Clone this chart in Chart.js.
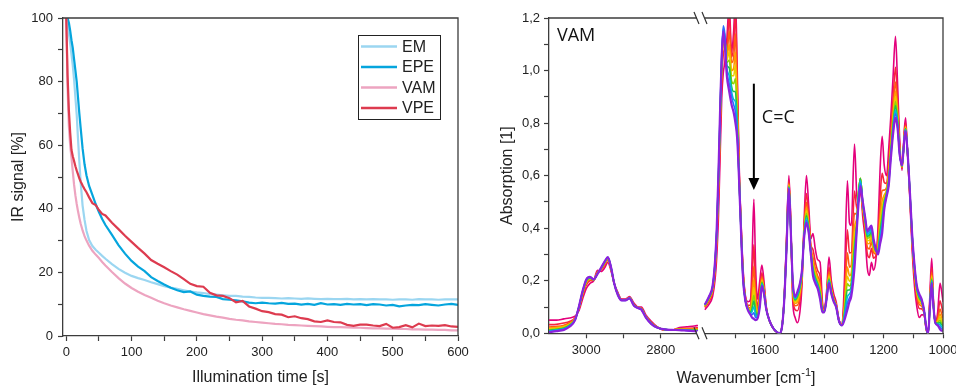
<!DOCTYPE html>
<html>
<head>
<meta charset="utf-8">
<title>IR conversion and VAM spectra</title>
<script src="https://cdn.jsdelivr.net/npm/chart.js@4.4.1/dist/chart.umd.min.js"></script>
<style>
  html, body { margin: 0; padding: 0; background: #fff; }
  body { width: 956px; height: 387px; overflow: hidden; position: relative; }
  canvas { position: absolute; top: 0; }
  #kinetics { left: 0; }
  #spectra { left: 478px; }
</style>
</head>
<body>
<canvas id="kinetics" width="478" height="387"></canvas>
<canvas id="spectra" width="500" height="387"></canvas>
<script>
// ---- IR signal of the C=C band vs. illumination time ----
const timeS = [0, 2, 4, 6, 8, 10, 12, 14, 16, 18, 20, 22, 25, 28, 31, 35, 40, 45, 50, 55,
  60, 70, 80, 90, 100, 110, 120, 130, 140, 150, 160, 170, 180, 190, 200, 210, 220, 230, 240, 250,
  260, 270, 280, 290, 300, 310, 320, 330, 340, 350, 360, 370, 380, 390, 400, 410, 420, 430, 440, 450,
  460, 470, 480, 490, 500, 510, 520, 530, 540, 550, 560, 570, 580, 590, 600];
const signalEM = [100, 98, 95, 92, 88.5, 85, 80.5, 75, 69.6, 62, 55, 48.5, 41, 36.5, 33, 30.2, 28.3, 27.1, 26.2, 25.2,
  24.3, 22.6, 21.1, 19.9, 18.9, 18.2, 17.6, 16.9, 16.3, 15.7, 15.2, 14.8, 14.4, 14.0, 13.7, 13.5, 13.2, 13.0, 12.8, 12.6,
  12.6, 12.4, 12.3, 12.1, 12.0, 12.0, 11.9, 11.8, 11.9, 11.8, 11.7, 11.8, 11.7, 11.6, 11.7, 11.6, 11.6, 11.7, 11.5, 11.6,
  11.5, 11.6, 11.5, 11.5, 11.4, 11.5, 11.5, 11.4, 11.6, 11.5, 11.5, 11.4, 11.5, 11.5, 11.5];
const signalEPE = [100, 100, 98.5, 96, 93, 90.5, 87, 83.5, 80, 75, 70, 65.5, 59, 54, 50.5, 47.2, 44.4, 41.5, 39, 36.8,
  34.9, 31.8, 28.6, 25.9, 23.6, 21.8, 20.4, 18.5, 17.3, 16.2, 15.2, 14.4, 13.8, 14.0, 13.0, 12.6, 12.4, 12.3, 11.6, 11.4,
  11.2, 10.9, 10.5, 10.3, 10.5, 10.3, 10.2, 10.4, 10.1, 10.2, 9.9, 10.1, 9.8, 10.3, 9.9, 10.0, 9.8, 10.1, 9.9, 10.0,
  9.7, 10.0, 9.9, 9.6, 9.8, 9.3, 9.6, 9.8, 9.7, 10.0, 9.8, 9.6, 9.9, 10.1, 9.8];
const signalVAM = [100, 78, 66, 60, 56, 51.7, 47.5, 44.2, 41.5, 39.2, 37.2, 35.4, 33.2, 31.4, 30, 28.4, 26.8, 25.6, 24.5, 23.3,
  22.2, 20.1, 18.2, 16.5, 15.1, 13.9, 12.9, 12.0, 11.1, 10.3, 9.6, 9.0, 8.4, 7.9, 7.4, 6.9, 6.5, 6.1, 5.8, 5.4,
  5.1, 4.9, 4.6, 4.4, 4.2, 4.0, 3.8, 3.7, 3.5, 3.4, 3.3, 3.2, 3.1, 3.0, 2.9, 2.8, 2.8, 2.7, 2.6, 2.6,
  2.5, 2.4, 2.4, 2.3, 2.3, 2.2, 2.2, 2.1, 2.1, 2.0, 2.0, 1.9, 1.9, 1.8, 1.8];
const signalVPE = [100, 82, 71, 64, 58.5, 56.5, 55, 53.4, 52, 50.8, 49.6, 48.6, 47.3, 46.2, 45.2, 43.6, 41.8, 41.2, 39.6, 38.4,
  37.9, 35.6, 33.6, 31.5, 29.6, 27.7, 25.9, 23.9, 22.7, 21.6, 20.4, 19.3, 17.9, 16.4, 15.7, 15.5, 13.6, 12.8, 12.6, 11.9,
  10.6, 11.0, 9.3, 8.6, 7.8, 7.5, 6.9, 6.7, 5.9, 6.2, 5.6, 5.3, 4.6, 4.4, 4.9, 4.4, 4.3, 3.5, 3.2, 3.6,
  3.6, 3.3, 3.1, 3.8, 2.6, 2.8, 3.4, 2.7, 3.9, 3.1, 3.3, 3.2, 3.4, 3.0, 2.9];
const timeTicks = [0, 50, 100, 150, 200, 250, 300, 350, 400, 450, 500, 550, 600];
const signalTicks = [0, 10, 20, 30, 40, 50, 60, 70, 80, 90, 100];

// ---- VAM spectra, first scan (scan0) to last scan (scan9) ----
// C-H region (3100-2700) followed by the fingerprint region (1800-1000)
const wavenumbers = [3100, 3080, 3060, 3045, 3030, 3020, 3010, 3000, 2990, 2980, 2970, 2960, 2950, 2942, 2934, 2925,
  2915, 2905, 2895, 2884, 2872, 2860, 2852, 2840, 2825, 2810, 2790, 2770, 2750, 2730, 2710, 2700,
  1802, 1788, 1776, 1768, 1762, 1756, 1750, 1745, 1740, 1735, 1728, 1720, 1712, 1705, 1699, 1693, 1686, 1680, 1673, 1665,
  1656, 1648, 1643, 1637, 1631, 1625, 1617, 1610, 1603, 1595, 1585, 1572, 1560, 1552, 1544, 1535, 1527, 1519, 1513, 1506,
  1498, 1490, 1482, 1475, 1468, 1460, 1452, 1445, 1438, 1430, 1422, 1414, 1406, 1400, 1392, 1384, 1376, 1368, 1360, 1350,
  1340, 1332, 1322, 1315, 1309, 1298, 1290, 1284, 1278, 1270, 1262, 1255, 1248, 1241, 1234, 1226, 1219, 1212, 1205, 1198,
  1190, 1183, 1176, 1168, 1160, 1153, 1146, 1138, 1130, 1126, 1120, 1112, 1104, 1096, 1088, 1080, 1072, 1064, 1056, 1050,
  1044, 1038, 1032, 1026, 1018, 1010, 1006, 1000];
const scan0 = [.05, .05, .055, .058, .065, .085, .13, .17, .19, .20, .24, .235, .25, .27, .24, .19,
  .155, .13, .13, .14, .115, .10, .10, .07, .045, .025, .012, .012, .022, .025, .028, .03,
  .09, .11, .14, .20, .29, .45, .70, .90, .99, 1.03, 1.12, 1.25, 1.07, 1.15, 1.28, 1.0, .62, .42, .24, .14,
  .12, .13, .28, .51, .25, .13, .20, .26, .20, .10, .05, .02, .005, 0, .015, .13, .36, .60, .44, .12,
  .06, .04, .08, .18, .42, .60, .48, .36, .38, .32, .28, .27, .12, .09, .16, .29, .20, .15, .12, .05,
  .035, .20, .58, .42, .41, .72, .52, .50, .55, .44, .36, .25, .22, .27, .24, .28, .40, .62, .75, .64,
  .60, .70, .82, .98, 1.13, .95, .74, .62, .78, .82, .70, .52, .32, .18, .10, .06, .07, .07, .01, 0,
  .15, .285, .12, .04, .08, .19, .17, .12];
const scan1 = [.033, .034, .039, .045, .059, .091, .141, .183, .20, .202, .234, .241, .26, .278, .246, .19,
  .151, .128, .128, .137, .111, .098, .096, .066, .041, .024, .013, .012, .018, .019, .02, .021,
  .098, .121, .155, .227, .332, .515, .768, .97, 1.06, 1.08, 1.08, 1.21, 1.05, 1.10, 1.22, .95, .60, .41, .23, .135,
  .107, .107, .196, .337, .174, .102, .162, .23, .181, .096, .05, .02, .005, 0, .014, .126, .345, .581, .425, .15,
  .09, .086, .122, .203, .397, .532, .442, .337, .319, .271, .238, .217, .105, .086, .149, .252, .181, .139, .112, .048,
  .033, .143, .394, .306, .307, .541, .474, .52, .57, .463, .39, .303, .288, .323, .286, .295, .362, .514, .609, .575,
  .57, .647, .759, .896, 1.012, .885, .717, .628, .765, .80, .70, .531, .343, .21, .13, .094, .093, .078, .014, 0,
  .131, .249, .112, .04, .061, .124, .109, .078];
const scan2 = [.024, .026, .031, .04, .057, .093, .147, .19, .204, .203, .232, .243, .264, .281, .248, .19,
  .149, .127, .127, .136, .109, .097, .094, .064, .039, .023, .014, .013, .016, .017, .017, .017,
  .101, .127, .162, .239, .352, .545, .801, 1.0, 1.10, 1.10, 1.06, 1.15, 1.03, 1.05, 1.14, .90, .59, .40, .22, .13,
  .10, .096, .157, .255, .138, .088, .144, .215, .172, .094, .05, .02, .005, 0, .014, .124, .338, .572, .418, .165,
  .105, .107, .142, .214, .386, .499, .424, .326, .29, .247, .218, .192, .098, .084, .143, .234, .172, .133, .109, .047,
  .032, .116, .306, .252, .259, .457, .453, .53, .58, .474, .405, .328, .321, .348, .307, .302, .344, .463, .543, .545,
  .555, .622, .73, .857, .956, .855, .706, .631, .758, .79, .70, .537, .354, .225, .145, .11, .104, .081, .016, 0,
  .122, .232, .109, .04, .052, .092, .08, .058];
const scan3 = [.019, .022, .027, .036, .055, .095, .15, .193, .207, .203, .23, .245, .267, .283, .25, .19,
  .148, .127, .127, .135, .108, .097, .093, .063, .038, .023, .014, .013, .015, .015, .015, .015,
  .103, .13, .167, .247, .364, .564, .821, 1.02, 1.12, 1.11, 1.05, 1.10, 1.0, 1.01, 1.07, .86, .58, .39, .22, .127,
  .097, .09, .133, .205, .116, .08, .133, .206, .167, .093, .05, .02, .005, 0, .014, .123, .333, .567, .413, .174,
  .114, .12, .154, .22, .38, .479, .413, .32, .273, .233, .206, .176, .093, .083, .14, .223, .167, .13, .107, .047,
  .032, .10, .252, .219, .229, .405, .44, .54, .59, .48, .414, .344, .341, .364, .32, .307, .333, .432, .502, .526,
  .546, .606, .713, .833, .922, .836, .70, .633, .753, .787, .70, .54, .36, .234, .154, .12, .11, .083, .017, 0,
  .117, .221, .107, .04, .047, .073, .063, .046];
const scan4 = [.016, .019, .024, .034, .054, .096, .152, .196, .209, .204, .229, .246, .269, .285, .251, .19,
  .148, .126, .126, .135, .108, .096, .093, .063, .038, .023, .014, .013, .015, .014, .013, .013,
  .105, .132, .17, .252, .371, .576, .833, 1.03, 1.13, 1.12, 1.04, 1.07, .98, .98, 1.02, .83, .58, .39, .21, .125,
  .094, .086, .117, .173, .102, .075, .126, .201, .163, .093, .05, .02, .005, 0, .013, .123, .33, .563, .41, .179,
  .119, .129, .161, .224, .376, .467, .406, .316, .262, .224, .199, .166, .09, .083, .138, .216, .163, .128, .105, .046,
  .031, .089, .217, .198, .21, .372, .431, .54, .59, .484, .419, .354, .353, .374, .329, .31, .326, .413, .476, .514,
  .541, .596, .702, .817, .901, .824, .696, .635, .75, .783, .70, .542, .364, .239, .159, .127, .114, .085, .017, 0,
  .113, .215, .105, .04, .043, .061, .052, .039];
const scan5 = [.013, .016, .021, .032, .053, .097, .154, .198, .21, .204, .228, .247, .27, .286, .252, .19,
  .147, .126, .126, .134, .107, .096, .092, .062, .037, .023, .014, .013, .014, .013, .012, .012,
  .106, .134, .172, .256, .378, .586, .844, 1.04, 1.14, 1.12, 1.03, 1.04, .96, .95, .97, .81, .57, .39, .21, .124,
  .092, .082, .104, .146, .09, .07, .12, .196, .16, .092, .05, .02, .005, 0, .013, .122, .328, .56, .408, .184,
  .124, .136, .168, .228, .372, .456, .40, .312, .252, .216, .192, .158, .088, .082, .136, .21, .16, .126, .104, .046,
  .031, .08, .188, .18, .194, .344, .424, .54, .59, .488, .424, .362, .364, .382, .336, .312, .32, .396, .454, .504,
  .536, .588, .692, .804, .882, .814, .692, .636, .748, .78, .70, .544, .368, .244, .164, .132, .118, .086, .018, 0,
  .11, .209, .104, .04, .04, .05, .042, .032];
const scan6 = [.011, .014, .019, .03, .052, .098, .156, .20, .211, .204, .227, .248, .271, .287, .253, .19,
  .147, .126, .126, .134, .107, .096, .092, .062, .037, .022, .015, .013, .014, .012, .011, .01,
  .107, .136, .174, .26, .384, .595, .853, 1.05, 1.15, 1.13, 1.02, 1.01, .94, .92, .92, .79, .57, .39, .21, .123,
  .09, .079, .093, .123, .08, .066, .115, .192, .158, .092, .05, .02, .005, 0, .013, .122, .326, .558, .406, .188,
  .128, .142, .174, .231, .369, .447, .395, .309, .244, .21, .187, .151, .086, .082, .135, .205, .158, .125, .103, .046,
  .031, .073, .164, .165, .181, .321, .418, .54, .59, .491, .428, .369, .373, .389, .342, .314, .315, .382, .436, .496,
  .532, .581, .684, .793, .867, .806, .689, .637, .746, .778, .70, .546, .371, .248, .168, .137, .121, .087, .018, 0,
  .108, .204, .103, .04, .038, .041, .034, .027];
const scan7 = [.009, .012, .017, .028, .052, .099, .157, .202, .213, .205, .227, .249, .273, .288, .254, .19,
  .146, .126, .126, .134, .106, .096, .091, .061, .036, .022, .015, .013, .013, .012, .01, .009,
  .108, .137, .176, .263, .389, .603, .862, 1.06, 1.16, 1.13, 1.01, .98, .92, .89, .88, .77, .57, .38, .20, .122,
  .089, .076, .082, .101, .07, .063, .11, .188, .155, .091, .05, .02, .005, 0, .013, .121, .324, .555, .404, .192,
  .132, .148, .179, .234, .366, .438, .39, .306, .236, .203, .181, .144, .084, .081, .133, .20, .155, .123, .102, .046,
  .031, .065, .139, .15, .167, .297, .412, .53, .58, .494, .432, .376, .382, .396, .348, .316, .31, .368, .417, .487,
  .528, .574, .676, .782, .851, .797, .686, .638, .744, .775, .70, .547, .374, .252, .172, .141, .124, .088, .019, 0,
  .105, .20, .102, .04, .035, .033, .026, .021];
const scan8 = [.006, .01, .015, .027, .051, .099, .159, .203, .214, .205, .226, .249, .274, .289, .254, .19,
  .146, .125, .125, .133, .106, .095, .091, .061, .036, .022, .015, .013, .013, .011, .009, .008,
  .109, .139, .178, .267, .395, .612, .871, 1.07, 1.17, 1.14, 1.0, .95, .90, .87, .84, .76, .56, .38, .20, .121,
  .087, .073, .071, .078, .06, .059, .105, .184, .153, .09, .05, .02, .005, 0, .013, .12, .322, .553, .402, .196,
  .136, .154, .185, .237, .363, .429, .385, .303, .228, .197, .176, .137, .082, .081, .132, .195, .153, .122, .101, .045,
  .03, .058, .115, .135, .154, .274, .406, .52, .57, .497, .436, .383, .391, .403, .354, .318, .305, .354, .399, .479,
  .524, .567, .668, .771, .836, .789, .683, .639, .742, .773, .70, .549, .377, .256, .176, .146, .127, .089, .02, 0,
  .103, .195, .101, .04, .033, .024, .018, .016];
const scan9 = [.004, .008, .013, .025, .05, .10, .16, .205, .215, .205, .225, .25, .275, .29, .255, .19,
  .145, .125, .125, .133, .105, .095, .09, .06, .035, .022, .015, .013, .012, .01, .008, .007,
  .11, .14, .18, .27, .40, .62, .88, 1.06, 1.15, 1.10, .98, .92, .87, .84, .80, .74, .56, .38, .20, .12,
  .085, .07, .06, .055, .05, .055, .10, .18, .15, .09, .05, .02, .005, 0, .013, .12, .32, .55, .40, .20,
  .14, .16, .19, .24, .36, .42, .38, .30, .22, .19, .17, .13, .08, .08, .13, .19, .15, .12, .10, .045,
  .03, .05, .09, .12, .14, .25, .40, .50, .56, .50, .44, .39, .40, .41, .36, .32, .30, .34, .38, .47,
  .52, .56, .66, .76, .82, .78, .68, .64, .74, .77, .70, .55, .38, .26, .18, .15, .13, .09, .02, 0,
  .10, .19, .10, .04, .03, .015, .01, .01];
const scans = [scan0, scan1, scan2, scan3, scan4, scan5, scan6, scan7, scan8, scan9];
const scanColors = ['#e4007c', '#f7243f', '#ff5c12', '#ff9d00', '#eecb00', '#94d400', '#1fc14d', '#00bfd8', '#2f6bff', '#8c22dc'];
const chTicks = [3000, 2900, 2800];
const fingerprintTicks = [1700, 1600, 1500, 1400, 1300, 1200, 1100, 1000];
const absorbTicks = [0, 0.1, 0.2, 0.3, 0.4, 0.5, 0.6, 0.7, 0.8, 0.9, 1.0, 1.1, 1.2];

Chart.defaults.font.family = '"Liberation Sans", Arial, sans-serif';
Chart.defaults.color = '#222';
const axisColor = '#3c3c3c';
const tickFont = { size: 13 };

function points(xs, ys) {
  return xs.map((x, i) => ({ x: x, y: ys[i] }));
}

// top and right edges of the plot box
const boxFrame = {
  id: 'boxFrame',
  afterDatasetsDraw(chart) {
    const { ctx, chartArea: a } = chart;
    ctx.save();
    ctx.strokeStyle = axisColor;
    ctx.lineWidth = 1.3;
    ctx.beginPath();
    ctx.moveTo(a.left, a.top);
    ctx.lineTo(a.right, a.top);
    ctx.lineTo(a.right, a.bottom);
    ctx.stroke();
    ctx.restore();
  }
};

// framed legend inside the plot area
const legendBox = {
  id: 'legendBox',
  afterDraw(chart) {
    const { ctx, chartArea: a } = chart;
    const w = 82, h = 84;
    const x = a.right - 18 - w, y = a.top + 17;
    ctx.save();
    ctx.fillStyle = '#fff';
    ctx.fillRect(x, y, w, h);
    ctx.strokeStyle = '#222';
    ctx.lineWidth = 1;
    ctx.strokeRect(x + 0.5, y + 0.5, w, h);
    ctx.font = '16px "Liberation Sans", Arial, sans-serif';
    ctx.textBaseline = 'middle';
    chart.data.datasets.forEach((ds, i) => {
      const cy = y + 11.5 + i * 20.5;
      ctx.strokeStyle = ds.borderColor;
      ctx.lineWidth = 2.5;
      ctx.beginPath();
      ctx.moveTo(x + 3, cy);
      ctx.lineTo(x + 39, cy);
      ctx.stroke();
      ctx.fillStyle = '#222';
      ctx.fillText(ds.label, x + 44, cy + 1);
    });
    ctx.restore();
  }
};

new Chart(document.getElementById('kinetics'), {
  type: 'line',
  data: {
    datasets: [
      { label: 'EM', data: points(timeS, signalEM), borderColor: '#9bd6f1', order: 3 },
      { label: 'EPE', data: points(timeS, signalEPE), borderColor: '#05a5dd', order: 2 },
      { label: 'VAM', data: points(timeS, signalVAM), borderColor: '#eda4c0', order: 1 },
      { label: 'VPE', data: points(timeS, signalVPE), borderColor: '#dd3b4f', order: 0 }
    ]
  },
  options: {
    responsive: false,
    animation: false,
    layout: { padding: { top: 18, right: 20, bottom: 0, left: 0 } },
    elements: { point: { radius: 0 }, line: { borderWidth: 2.2, tension: 0 } },
    scales: {
      x: {
        type: 'linear', min: -5, max: 600,
        afterBuildTicks: s => { s.ticks = timeTicks.map(v => ({ value: v })); },
        afterFit: s => { s.height = 51; },
        ticks: { callback: v => (v % 100 === 0 ? v : ''), font: tickFont, maxRotation: 0, autoSkip: false, padding: 4 },
        grid: { drawOnChartArea: false, tickLength: 5, tickColor: axisColor, tickWidth: 1.2 },
        border: { color: axisColor, width: 1.3 },
        title: { display: true, text: 'Illumination time [s]', font: { size: 16 }, padding: { top: 0, bottom: 0 } }
      },
      y: {
        min: 0, max: 100,
        afterBuildTicks: s => { s.ticks = signalTicks.map(v => ({ value: v })); },
        afterFit: s => { s.width = 63; },
        ticks: { callback: v => (v % 20 === 0 ? v : ''), font: tickFont, autoSkip: false, padding: 5 },
        grid: { drawOnChartArea: false, tickLength: 5, tickColor: axisColor, tickWidth: 1.2 },
        border: { color: axisColor, width: 1.3 },
        title: { display: true, text: 'IR signal [%]', font: { size: 16 }, padding: { top: 9, bottom: 0 } }
      }
    },
    plugins: { legend: { display: false }, tooltip: { enabled: false } }
  },
  plugins: [boxFrame, legendBox]
});

// axis break, band label, arrow and the wavenumber title
const spectraDecor = {
  id: 'spectraDecor',
  afterDraw(chart) {
    const { ctx, chartArea: a, scales } = chart;
    const yS = scales.y, xR = scales.xR, xL = scales.xL;
    ctx.save();
    ctx.strokeStyle = axisColor;
    ctx.lineWidth = 1.3;
    ctx.beginPath();
    ctx.moveTo(a.left, a.top);
    ctx.lineTo(a.right, a.top);
    ctx.lineTo(a.right, a.bottom);
    ctx.stroke();

    const bx = xL.right;
    [a.top, a.bottom].forEach(yy => {
      ctx.fillStyle = '#fff';
      ctx.fillRect(bx - 4, yy - 2, 8, 4);
      ctx.strokeStyle = '#333';
      ctx.lineWidth = 1.2;
      ctx.beginPath();
      ctx.moveTo(bx - 7, yy - 6);
      ctx.lineTo(bx - 2, yy + 6);
      ctx.moveTo(bx + 1, yy - 6);
      ctx.lineTo(bx + 6, yy + 6);
      ctx.stroke();
    });

    ctx.fillStyle = '#111';
    ctx.font = '18px "Open Sans", sans-serif';
    ctx.textBaseline = 'alphabetic';
    ctx.fillText('VAM', a.left + 8, a.top + 23);

    const ax = xR.getPixelForValue(1637);
    const yTop = yS.getPixelForValue(0.95);
    const yTip = yS.getPixelForValue(0.545);
    ctx.strokeStyle = '#000';
    ctx.lineWidth = 2;
    ctx.beginPath();
    ctx.moveTo(ax, yTop);
    ctx.lineTo(ax, yTip - 10);
    ctx.stroke();
    ctx.fillStyle = '#000';
    ctx.beginPath();
    ctx.moveTo(ax - 5.5, yTip - 12);
    ctx.lineTo(ax + 5.5, yTip - 12);
    ctx.lineTo(ax, yTip);
    ctx.closePath();
    ctx.fill();
    ctx.fillStyle = '#111';
    ctx.font = '18px "Open Sans", sans-serif';
    ctx.fillText('C=C', ax + 8, yS.getPixelForValue(0.80));

    // x title with superscript
    const main = 'Wavenumber [cm', sup = '-1', tail = ']';
    const fMain = '16px "Liberation Sans", Arial, sans-serif';
    const fSup = '11px "Liberation Sans", Arial, sans-serif';
    ctx.font = fMain;
    const w1 = ctx.measureText(main).width, w3 = ctx.measureText(tail).width;
    ctx.font = fSup;
    const w2 = ctx.measureText(sup).width;
    let tx = (a.left + a.right) / 2 - (w1 + w2 + w3) / 2;
    const ty = 383;
    ctx.fillStyle = '#222';
    ctx.font = fMain;
    ctx.fillText(main, tx, ty);
    tx += w1;
    ctx.font = fSup;
    ctx.fillText(sup, tx, ty - 7);
    tx += w2;
    ctx.font = fMain;
    ctx.fillText(tail, tx, ty);
    ctx.restore();
  }
};

// each scan is split over the two x ranges; later scans are drawn on top
const spectraSets = [];
scans.forEach((scan, k) => {
  const width = k === scans.length - 1 ? 2.2 : 1.6;
  const ch = wavenumbers.map((w, i) => ({ x: w, y: scan[i] })).filter(p => p.x > 2000);
  const fp = wavenumbers.map((w, i) => ({ x: w, y: scan[i] })).filter(p => p.x < 2000);
  const order = scans.length - k;
  spectraSets.push({ data: ch, xAxisID: 'xL', borderColor: scanColors[k], borderWidth: width, order: order });
  spectraSets.push({ data: fp, xAxisID: 'xR', borderColor: scanColors[k], borderWidth: width, order: order });
});

const xCommon = {
  type: 'linear', position: 'bottom', reverse: true, stack: 'wavenumber',
  afterFit: s => { s.height = 53.7; },
  grid: { drawOnChartArea: false, tickLength: 5, tickColor: axisColor, tickWidth: 1.2 },
  border: { color: axisColor, width: 1.3 }
};

new Chart(document.getElementById('spectra'), {
  type: 'line',
  data: { datasets: spectraSets },
  options: {
    responsive: false,
    animation: false,
    layout: { padding: { top: 18, right: 35, bottom: 0, left: 0 } },
    elements: { point: { radius: 0 }, line: { tension: 0, cubicInterpolationMode: 'monotone' } },
    scales: {
      xL: Object.assign({}, xCommon, {
        min: 2692, max: 3100, stackWeight: 152,
        afterBuildTicks: s => { s.ticks = chTicks.map(v => ({ value: v })); },
        ticks: { callback: v => (v % 200 === 0 ? v : ''), font: tickFont, maxRotation: 0, autoSkip: false, padding: 4 }
      }),
      xR: Object.assign({}, xCommon, {
        min: 1000, max: 1815, stackWeight: 242,
        afterBuildTicks: s => { s.ticks = fingerprintTicks.map(v => ({ value: v })); },
        ticks: { callback: v => (v % 200 === 0 ? v : ''), font: tickFont, maxRotation: 0, autoSkip: false, padding: 4 }
      }),
      y: {
        min: 0, max: 1.2,
        afterBuildTicks: s => { s.ticks = absorbTicks.map(v => ({ value: v })); },
        afterFit: s => { s.width = 71; },
        ticks: {
          callback: v => (Math.round(v * 10) % 2 === 0 ? v.toFixed(1).replace('.', ',') : ''),
          font: tickFont, autoSkip: false, padding: 4
        },
        grid: { drawOnChartArea: false, tickLength: 5, tickColor: axisColor, tickWidth: 1.2 },
        border: { color: axisColor, width: 1.3 },
        title: { display: true, text: 'Absorption [1]', font: { size: 16 }, padding: { top: 20, bottom: 0 } }
      }
    },
    plugins: { legend: { display: false }, tooltip: { enabled: false } }
  },
  plugins: [spectraDecor]
});
</script>
</body>
</html>
